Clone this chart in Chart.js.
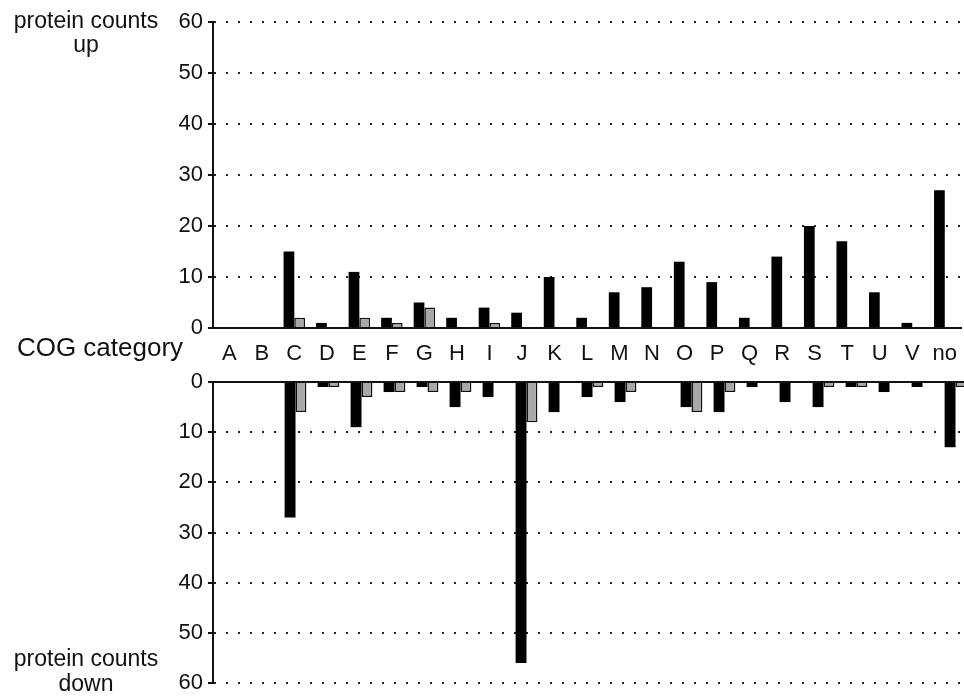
<!DOCTYPE html>
<html>
<head>
<meta charset="utf-8">
<script src="https://cdn.jsdelivr.net/npm/chart.js@4.4.0/dist/chart.umd.min.js"></script>
<style>
  body { margin: 0; background: #fff; overflow: hidden; font-family: "Liberation Sans", Arial, sans-serif; color: #111; }
  #wrap { position: absolute; left: 0; top: 0; width: 964px; height: 699px; overflow: hidden; }
  .box { position: absolute; left: 0; }
  .lbl { position: absolute; text-align: center; font-size: 23px; line-height: 24px; }
</style>
</head>
<body>
<div id="wrap">
  <div class="box" style="top:0"><canvas id="graficoUp" width="972" height="370"></canvas></div>
  <div class="box" style="top:366px"><canvas id="graficoDown" width="972" height="333"></canvas></div>
  <div class="lbl" style="left:0;top:8px;width:172px">protein counts<br>up</div>
  <div class="lbl" style="left:0;top:333px;width:200px;font-size:26px;line-height:28px">COG category</div>
  <div class="lbl" style="left:0;top:646px;width:172px;line-height:25px">protein counts<br>down</div>
</div>
<script>
// COG categories and protein counts
const categorias = ['A','B','C','D','E','F','G','H','I','J','K','L','M','N','O','P','Q','R','S','T','U','V','no'];
const upPreto  = [0,0,15,1,11,2,5,2,4,3,10,2,7,8,13,9,2,14,20,17,7,1,27];
const upCinza  = [0,0,2,0,2,1,4,0,1,0,0,0,0,0,0,0,0,0,0,0,0,0,0];
const downPreto = [0,0,27,1,9,2,1,5,3,56,6,3,4,0,5,6,1,4,5,1,2,1,13];
const downCinza = [0,0,6,1,3,2,2,2,0,8,0,1,2,0,6,2,0,0,1,1,0,0,1];
const yTicks = [0,10,20,30,40,50,60];

const fonte = { family: '"Liberation Sans", Arial, sans-serif', size: 22, lineHeight: 1 };

function datasets(preto, cinza) {
  return [
    { data: preto, backgroundColor: '#000', borderWidth: 0, categoryPercentage: 0.66, barPercentage: 1 },
    { data: cinza, backgroundColor: '#a8a8a8', borderColor: '#111', borderWidth: 1.5, categoryPercentage: 0.66, barPercentage: 1 }
  ];
}

function eixoY(reverse) {
  return {
    min: 0, max: 60, reverse: reverse,
    afterBuildTicks: s => { s.ticks = yTicks.map(v => ({ value: v })); },
    ticks: { color: '#111', font: fonte, padding: 5 },
    grid: { color: '#222', lineWidth: 2, borderDash: [2, 10], tickLength: 5, tickColor: '#111', tickWidth: 2, tickBorderDash: [1, 0] },
    border: { display: true, color: '#111', width: 2, dash: [2, 10] },
    afterFit: s => { s.width = 213; }
  };
}

const base = {
  responsive: false,
  devicePixelRatio: 1,
  animation: false,
  plugins: { legend: { display: false }, tooltip: { enabled: false } }
};

new Chart(document.getElementById('graficoUp').getContext('2d'), {
  type: 'bar',
  data: { labels: categorias, datasets: datasets(upPreto, upCinza) },
  options: Object.assign({}, base, {
    layout: { padding: { top: 22, right: 0, bottom: 0, left: 0 } },
    scales: {
      x: {
        offset: true,
        grid: { display: false, drawTicks: false, tickLength: 0 },
        border: { display: true, color: '#111', width: 2 },
        ticks: { color: '#111', font: fonte, padding: 15, autoSkip: false, maxRotation: 0 },
        afterFit: s => { s.height = 42; }
      },
      y: eixoY(false)
    }
  })
});

new Chart(document.getElementById('graficoDown').getContext('2d'), {
  type: 'bar',
  data: { labels: categorias, datasets: datasets(downPreto, downCinza) },
  options: Object.assign({}, base, {
    layout: { padding: { top: 15, right: 0, bottom: 12, left: 0 } },
    scales: {
      x: {
        position: 'top',
        offset: true,
        grid: { display: false, drawTicks: false, tickLength: 0 },
        border: { display: true, color: '#111', width: 2 },
        ticks: { display: false },
        afterFit: s => { s.height = 0; }
      },
      y: eixoY(true)
    }
  })
});
</script>
</body>
</html>
